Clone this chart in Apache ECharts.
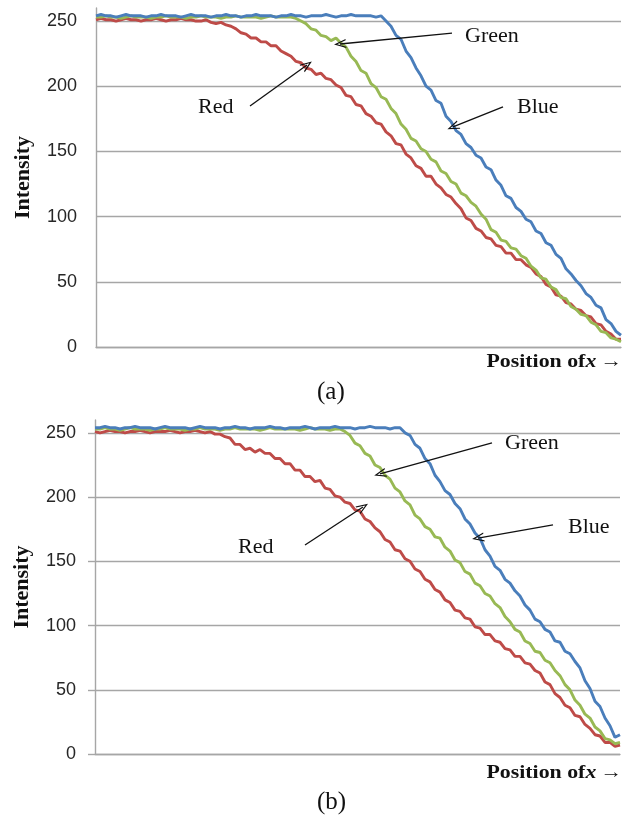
<!DOCTYPE html>
<html><head><meta charset="utf-8">
<script src="https://cdn.jsdelivr.net/npm/echarts@6/dist/echarts.min.js"></script>
<style>html,body{margin:0;padding:0;background:#fff}#c{width:631px;height:825px}</style>
</head><body><div id="c"></div>
<script>
// ---- tick labels ----
const yTicks = [0, 50, 100, 150, 200, 250];

// ---- chart (a) intensity profiles ----
const redA = [
 251,252,251,251,250,251,252,251,251,250,251,251,252,251,250,251,251,252,251,251,250,
 250,251,249,248,249,247,246,244,241,240,237,237,234,234,231,231,227,225,223,219,
 218,214,213,209,210,206,205,201,199,193,192,186,185,179,177,172,171,165,162,156,
 155,148,145,139,137,131,131,125,122,117,115,110,106,99,97,91,89,84,83,78,
 77,72,72,67,67,63,61,56,54,48,46,40,39,34,33,29,28,24,23,18,
 17,12,10,6,6
];
const greenA = [
 253,253,254,253,253,252,253,254,253,253,
 253,252,253,253,254,253,253,253,252,253,
 253,254,253,253,253,252,253,253,254,253,
 253,253,253,252,253,254,253,253,253,253,
 252,250,248,244,243,239,238,235,237,233,230,223,219,212,210,202,199,192,190,183,
 179,171,167,160,158,152,150,144,142,135,133,127,125,118,116,111,108,102,98,90,
 88,82,81,76,75,70,68,62,59,53,52,46,44,38,37,31,29,25,24,19,
 17,12,11,7,6,4
];
const blueA = [
 254,255,254,254,253,254,255,254,254,254,
 253,254,254,255,254,254,254,253,254,255,
 254,254,254,253,254,254,255,254,254,253,
 254,254,255,254,254,254,253,254,254,255,
 254,254,253,254,254,254,255,254,253,254,
 254,255,254,254,254,254,253,254,
 250,246,239,236,227,222,214,208,200,197,189,187,177,173,166,163,156,153,147,145,
 138,136,128,124,116,114,107,104,98,96,89,87,80,78,71,68,60,56,51,47,
 41,38,32,30,21,18,12,9
];

// ---- chart (b) intensity profiles ----
const redB = [
 251,250,251,252,251,251,250,251,251,252,251,250,251,251,251,252,251,250,251,251,252,251,
 250,251,249,249,247,246,241,241,237,238,235,237,234,234,230,230,226,226,221,221,
 216,216,212,213,207,206,201,200,196,195,190,189,183,181,176,173,167,165,159,158,
 152,150,144,142,136,134,128,126,120,118,112,111,106,105,99,98,93,93,88,87,
 82,81,76,76,71,70,65,63,56,54,47,44,38,36,30,29,23,20,15,14,
 9,9,6,7
];
const greenB = [
 253,253,254,253,253,252,253,254,253,253,
 253,252,253,253,254,253,253,253,252,253,
 253,254,253,253,253,252,253,253,254,253,
 253,253,253,252,253,254,253,253,253,253,
 253,252,253,254,253,253,253,252,253,253,
 251,248,242,240,234,232,225,223,217,214,207,204,197,194,186,183,177,175,169,168,
 161,158,151,149,142,140,133,131,125,123,117,114,107,103,97,95,88,86,80,79,
 73,71,65,61,54,50,42,38,31,28,21,18,12,11,8,9
];
const blueB = [
 254,254,255,254,254,253,254,254,255,254,
 254,254,253,254,255,254,254,254,254,253,
 254,255,254,254,254,253,254,254,255,254,
 254,253,254,254,254,255,254,254,253,254,
 254,254,255,254,253,254,254,254,255,254,
 254,254,253,254,254,255,254,254,254,253,
 254,254,
 250,248,241,238,230,226,217,212,205,202,195,191,183,179,172,168,159,154,146,143,
 136,133,127,123,116,112,105,103,97,95,88,87,80,78,72,67,57,51,41,37,
 28,22,13,15
];

// ---- annotations: [labelPos, arrowFrom, arrowTo] in data coordinates ----
const annA = {
  Red:   {label: [20.4, 184.1], from: [30.8, 184.8], to: [42.2, 216.3]},
  Green: {label: [73.8, 238.5], from: [71.2, 240.8], to: [48.8, 232.4]},
  Blue:  {label: [84.2, 184.1], from: [81.4, 184.1], to: [71.4, 168.8]}
};
const annB = {
  Red:   {label: [28.6, 161.1], from: [42.0, 162.7], to: [53.6, 192.3]},
  Green: {label: [82.0, 242.1], from: [79.4, 242.1], to: [57.0, 218.0]},
  Blue:  {label: [94.6, 176.7], from: [91.6, 178.3], to: [76.6, 168.1]}
};

const COLORS = {Red: '#BE4B48', Green: '#98B954', Blue: '#4A7EBB'};
const GRID_COLOR = '#a6a6a6';
const chevron = 'path://M0,12 L5,0 L10,12 L8.6,12 L5,3.2 L1.4,12 Z';

const chart = echarts.init(document.getElementById('c'), null, {renderer: 'canvas'});

function yAxisCfg(gi, ticks) {
  return {
    type: 'value', gridIndex: gi, min: 0, max: 260, interval: 50,
    name: 'Intensity', nameLocation: 'middle', nameGap: 62, nameRotate: 90,
    nameTextStyle: {fontFamily: 'Liberation Serif', fontWeight: 'bold', fontSize: 22, color: '#111'},
    axisLine: {show: true, lineStyle: {color: GRID_COLOR, width: 1.4}},
    axisTick: {show: ticks, length: 7, lineStyle: {color: GRID_COLOR, width: 1.4}},
    axisLabel: {
      fontFamily: 'Liberation Sans', fontSize: 18, color: '#262626', margin: 19,
      showMaxLabel: false,
      formatter: v => (yTicks.indexOf(v) >= 0 ? String(v) : '')
    },
    splitLine: {show: true, showMaxLine: false, lineStyle: {color: GRID_COLOR, width: 1.4}}
  };
}
function xAxisCfg(gi) {
  return {
    type: 'value', gridIndex: gi, min: 0, max: 105,
    axisLine: {show: true, lineStyle: {color: GRID_COLOR, width: 1.4}},
    axisTick: {show: false}, axisLabel: {show: false}, splitLine: {show: false}
  };
}
function seriesCfg(name, arr, gi, ann) {
  const a = ann[name];
  return {
    type: 'line', name: name, xAxisIndex: gi, yAxisIndex: gi,
    data: arr.map((v, i) => [i, v]),
    symbol: 'none', showSymbol: false, animation: false,
    lineStyle: {color: COLORS[name], width: 2.9},
    itemStyle: {color: COLORS[name]},
    markLine: {
      silent: true, animation: false,
      symbol: ['none', chevron], symbolSize: [9, 12],
      lineStyle: {color: '#111', width: 1.3, type: 'solid'},
      label: {show: false},
      emphasis: {disabled: true},
      data: [[{coord: a.from}, {coord: a.to}]]
    },
    markPoint: {
      silent: true, animation: false,
      symbol: 'circle', symbolSize: 0,
      itemStyle: {color: 'rgba(0,0,0,0)'},
      label: {show: true, position: 'right', distance: 0, formatter: '{b}',
              fontFamily: 'Liberation Serif', fontSize: 22, color: '#111'},
      data: [{name: name, coord: a.label}]
    }
  };
}

function posLabel(y) {
  return {
    type: 'text', right: 9, top: y, silent: true,
    scaleX: 1.15, originX: 622,
    style: {
      text: '{b|Position of}{i|x} {b|→}',
      fill: '#111',
      rich: {
        b: {fontFamily: 'Liberation Serif', fontWeight: 'bold', fontSize: 19, fill: '#111'},
        i: {fontFamily: 'Liberation Serif', fontWeight: 'bold', fontStyle: 'italic', fontSize: 19, fill: '#111'}
      }
    }
  };
}
function caption(txt, y) {
  return {
    type: 'text', left: 317, top: y, silent: true,
    style: {text: txt, fontFamily: 'Liberation Serif', fontSize: 25, fill: '#111'}
  };
}

chart.setOption({
  animation: false,
  backgroundColor: '#fff',
  grid: [
    {left: 96, right: 10, top: 8, bottom: 478},
    {left: 95, right: 11, top: 420, bottom: 71}
  ],
  xAxis: [xAxisCfg(0), xAxisCfg(1)],
  yAxis: [yAxisCfg(0, false), yAxisCfg(1, true)],
  series: [
    seriesCfg('Red', redA, 0, annA),
    seriesCfg('Green', greenA, 0, annA),
    seriesCfg('Blue', blueA, 0, annA),
    seriesCfg('Red', redB, 1, annB),
    seriesCfg('Green', greenB, 1, annB),
    seriesCfg('Blue', blueB, 1, annB)
  ],
  graphic: [
    posLabel(353), posLabel(764),
    caption('(a)', 380), caption('(b)', 790)
  ]
});
</script>
</body></html>
